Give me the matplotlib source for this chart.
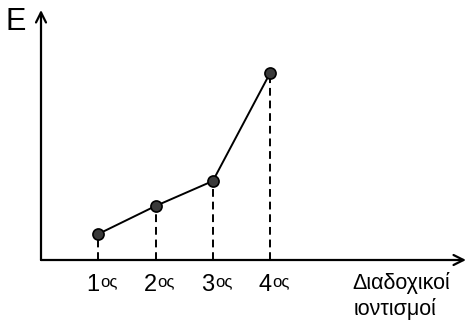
import matplotlib
matplotlib.use('Agg')
import matplotlib.pyplot as plt

# successive ionisation energies (arbitrary units)
steps = [1, 2, 3, 4]
energy = [26, 54, 79, 187]
step_nums = ['1', '2', '3', '4']
step_suffix = 'ος'

plt.rcParams['font.family'] = ['Liberation Sans', 'DejaVu Sans']

W, H = 466, 322
fig = plt.figure(figsize=(W / 100, H / 100), dpi=100)
ax = fig.add_axes([41 / W, (H - 260) / H, (466 - 41) / W, (260 - 10) / H])
ax.set_xlim(0, 7.42)
ax.set_ylim(0, 250)
ax.axis('off')

# axes with arrow heads
ax.annotate('', xy=(7.42, 0), xytext=(0, 0), xycoords='data',
            arrowprops=dict(arrowstyle='->', lw=1.6, color='black',
                            mutation_scale=18, shrinkA=0, shrinkB=0),
            annotation_clip=False)
ax.annotate('', xy=(0, 250), xytext=(0, 0), xycoords='data',
            arrowprops=dict(arrowstyle='->', lw=1.6, color='black',
                            mutation_scale=18, shrinkA=0, shrinkB=0),
            annotation_clip=False)

# dashed drop lines
for x, y in zip(steps, energy):
    ax.plot([x, x], [0, y], color='black', lw=1.4, ls=(0, (4, 2.5)), zorder=1)

ax.plot(steps, energy, color='black', lw=1.4, zorder=2)
ax.plot(steps, energy, 'o', ms=8, mfc='#3a3a3a', mec='black', mew=1.2, zorder=3)

# tick labels 1ος, 2ος ...
for x, n in zip(steps, step_nums):
    ax.annotate(n, xy=(x, 0), xytext=(1, -10), textcoords='offset points',
                ha='right', va='top', fontsize=17, annotation_clip=False)
    ax.annotate(step_suffix, xy=(x, 0), xytext=(1.5, -10), textcoords='offset points',
                ha='left', va='top', fontsize=12, annotation_clip=False)

fig.text(6 / W, 1 - 22 / H, 'E', fontsize=22, ha='left', va='center')
fig.text(352 / W, 1 - 283 / H, 'Διαδοχικοί', fontsize=15.5, ha='left', va='center')
fig.text(354 / W, 1 - 309 / H, 'ιοντισμοί', fontsize=15.5, ha='left', va='center')

fig.savefig('out.png', dpi=100)
